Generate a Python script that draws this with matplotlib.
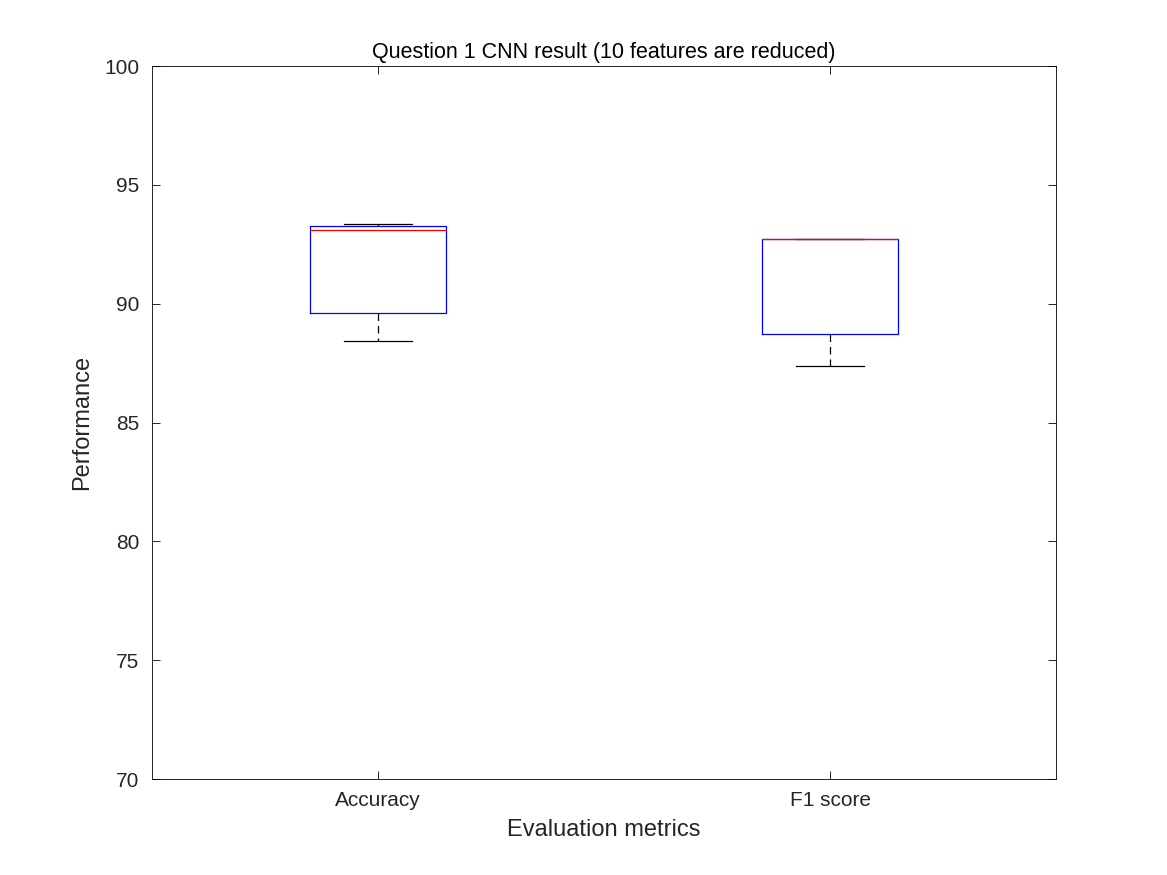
import matplotlib
matplotlib.use("Agg")
import matplotlib.pyplot as plt

plt.rcParams['font.family'] = ['Liberation Sans', 'DejaVu Sans']

metrics = ["Accuracy", "F1 score"]
whislo = [88.43, 87.37]
q1 = [89.6, 88.72]
med = [93.1, 92.74]
q3 = [93.28, 92.74]
whishi = [93.35, 92.74]

stats = [dict(label=m, whislo=a, q1=b, med=c, q3=d, whishi=e, fliers=[])
         for m, a, b, c, d, e in zip(metrics, whislo, q1, med, q3, whishi)]

fig = plt.figure(figsize=(11.67, 8.75), dpi=100)
ax = fig.add_axes([152 / 1167, 1 - 779 / 875, 904 / 1167, 713 / 875])
ax.bxp(stats, positions=[1, 2], widths=0.3,
       boxprops=dict(color="blue", lw=0.9),
       medianprops=dict(color="red", lw=0.9, zorder=5),
       whiskerprops=dict(color="black", ls=(0, (6, 4)), lw=0.9),
       capprops=dict(color="black", lw=0.9), capwidths=0.15)
ax.set_xlim(0.5, 2.5)
ax.set_ylim(70, 100)
ax.set_yticks(range(70, 101, 5))
ax.tick_params(direction="in", top=True, right=True, labelsize=15, length=6,
               width=0.6, pad=9, labelcolor="#262626")
for s in ax.spines.values():
    s.set_linewidth(0.6)
ax.set_title("Question 1 CNN result (10 features are reduced)", fontsize=15.5, pad=6)
ax.set_xlabel("Evaluation metrics", fontsize=17, labelpad=6, color="#262626")
ax.set_ylabel("Performance", fontsize=17, labelpad=8, color="#262626")
fig.savefig("out.png", dpi=100)
